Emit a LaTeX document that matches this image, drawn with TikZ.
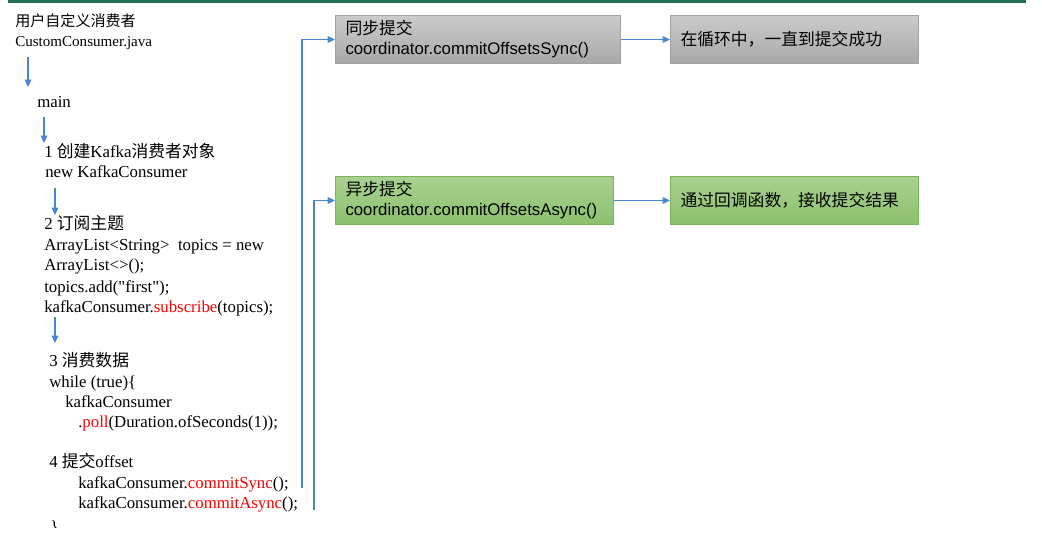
\documentclass[tikz,border=0pt]{standalone}
\usepackage{fontspec}
\setmainfont{Liberation Serif}
\newfontfamily\cjk{Noto Sans CJK SC}
\newfontfamily\casetafont{Liberation Sans}
\usetikzlibrary{positioning,arrows.meta}
\definecolor{albastru}{HTML}{4A86D0}
\definecolor{bara}{HTML}{236E55}
\definecolor{grisus}{HTML}{CBCBCB}
\definecolor{grijos}{HTML}{A8A8A8}
\definecolor{grimargine}{HTML}{A2A2A2}
\definecolor{verdesus}{HTML}{AAD190}
\definecolor{verdejos}{HTML}{8BC16C}
\definecolor{verdemargine}{HTML}{7AB35A}
\tikzset{
  rand/.style        = {anchor=base west, inner sep=0pt, font=\fontsize{12.6}{15}\selectfont},
  titlu/.style       = {rand, font=\fontsize{11.3}{15}\selectfont},
  caseta/.style      = {draw, line width=0.75pt, align=left, inner xsep=7.5pt, inner ysep=0pt,
                        minimum height=36pt, font=\casetafont\fontsize{12.6}{15}\selectfont},
  casetagri/.style   = {caseta, draw=grimargine, top color=grisus, bottom color=grijos},
  casetaverde/.style = {caseta, draw=verdemargine, top color=verdesus, bottom color=verdejos},
  sageata/.style     = {-{Triangle[length=5.5pt,width=5pt]}, line width=0.9pt, draw=albastru}
}
\begin{document}
\begin{tikzpicture}[x=0.75pt, y=-0.75pt]
        \useasboundingbox (0,0) rectangle (1042,538);
        \fill[bara] (8,0) rectangle (1026,3);

        \node[titlu] (titlu) at (15,27) {{\cjk 用户自定义消费者}};
        \node[titlu] (fisier) at (15,47) {CustomConsumer.java};

        % codul din stanga, cate un rand
        \foreach \nume/\x/\y/\txt in {
            metoda/37/108/{main},
            pas1/44/158/{1 {\cjk 创建}Kafka{\cjk 消费者对象}},
            pas1b/45/178/{new KafkaConsumer},
            pas2/44/230/{2 {\cjk 订阅主题}},
            pas2b/44/251/{ArrayList<String>\ \ topics = new},
            pas2c/44/271/{ArrayList<>();},
            pas2d/44/292/{topics.add(\textquotedbl first\textquotedbl);},
            pas2e/44/312/{kafkaConsumer.{\color{red}subscribe}(topics);},
            pas3/49/366/{3 {\cjk 消费数据}},
            pas3b/49/387/{while (true)\{},
            pas3c/65/407/{kafkaConsumer},
            pas3d/78/427/{.{\color{red}poll}(Duration.ofSeconds(1));},
            pas4/49/467/{4 {\cjk 提交}offset},
            csync/78/488/{kafkaConsumer.{\color{red}commitSync}();},
            casync/78/508/{kafkaConsumer.{\color{red}commitAsync}();}
        } \node[rand] (\nume) at (\x,\y) {\txt};
        \begin{scope}
            \clip (0,0) rectangle (1042,527);
            \node[rand] (acolada) at (50,532) {\}};
        \end{scope}

        \draw[sageata] ([shift={(13,10)}]fisier.base west) -- ([shift={(-9,-21)}]metoda.base west);
        \draw[sageata] ([shift={(7,9)}]metoda.base west) -- ([shift={(0,-15)}]pas1.base west);
        \draw[sageata] ([shift={(10,10)}]pas1b.base west) -- ([shift={(11,-15)}]pas2.base west);
        \draw[sageata] ([shift={(11,5)}]pas2e.base west) -- ([shift={(6,-23)}]pas3.base west);

        % casetele din dreapta
        \node[casetagri, anchor=north west, text width=198.75pt] (sync) at (335,15)
            {{\cjk 同步提交}\\coordinator.commitOffsetsSync()};
        \node[casetagri, text width=171pt, right=36.75pt of sync] (syncrez)
            {{\cjk 在循环中，一直到提交成功}};
        \node[casetaverde, anchor=north west, text width=193.5pt] (async) at (335,176)
            {{\cjk 异步提交}\\coordinator.commitOffsetsAsync()};
        \node[casetaverde, text width=171pt, right=42pt of async] (asyncrez)
            {{\cjk 通过回调函数，接收提交结果}};

        \coordinate (piciorsync) at (302,488);
        \coordinate (piciorasync) at (314,510);
        \draw[sageata] (piciorsync) |- (sync.west);
        \draw[sageata] (piciorasync) |- (async.west);
        \draw[sageata] (sync) -- (syncrez);
        \draw[sageata] (async) -- (asyncrez);
    \end{tikzpicture}
\end{document}
